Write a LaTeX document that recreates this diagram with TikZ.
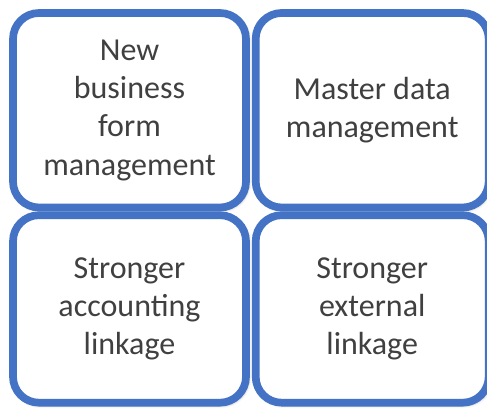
\documentclass[tikz,border=0pt]{standalone}
\usepackage{fontspec}
\setmainfont{Carlito}
\usetikzlibrary{positioning,shadows.blur}
\definecolor{boxblue}{HTML}{4472C4}
\definecolor{boxtext}{HTML}{404040}

\begin{document}
\begin{tikzpicture}[
    x=1pt, y=1pt,
    nodes={draw=boxblue, line width=7.7pt, fill=white,
        rounded corners=26pt, text=boxtext, align=center,
        font=\fontsize{32}{38.3}\selectfont,
        blur shadow={shadow xshift=1.5pt, shadow yshift=-1.5pt,
            shadow blur radius=4pt, shadow opacity=45}},
    topbox/.style={minimum width=233pt, minimum height=194.5pt},
    bottombox/.style={minimum width=233pt, minimum height=187.5pt},
]
\useasboundingbox (0,0) rectangle (487,412);
    %top row
    \node[topbox] (newform) at (129.5,301.75) {New\\business\\form\\management};
    \node[topbox, right=2pt of newform] (masterdata) {Master data\\management};
    %bottom row
    \node[bottombox, below=0pt of newform] (accounting) {Stronger\\accounting\\linkage};
    \node[bottombox, below=0pt of masterdata] (external) {Stronger\\external\\linkage};
\end{tikzpicture}
\end{document}
